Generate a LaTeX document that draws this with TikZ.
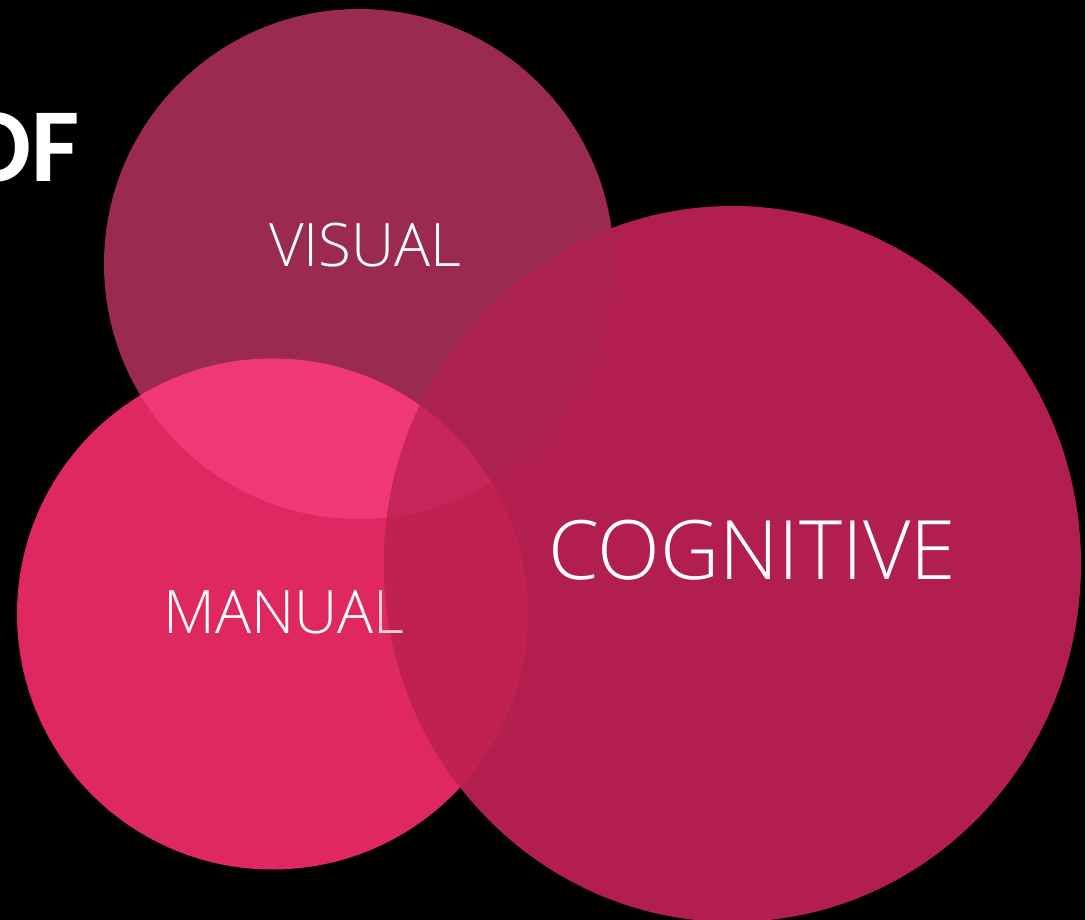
\documentclass[tikz,border=0pt]{standalone}
\usepackage{fontspec}
\usetikzlibrary{shapes.geometric}
\setmainfont{Open Sans}
\newfontfamily\lightfont{Open Sans Light}
\newfontfamily\offont{Carlito}
\definecolor{cV}{HTML}{9A2A4E}
\definecolor{cM}{HTML}{DF2762}
\definecolor{cC}{HTML}{B21F4E}
\definecolor{cVM}{HTML}{F03878}
\definecolor{cVC}{HTML}{AC214E}
\definecolor{cMC}{HTML}{C02052}
\definecolor{cVMC}{HTML}{C8255C}
\begin{document}
\begin{tikzpicture}[x=1pt,y=-1pt,
  blob/.style={circle, inner sep=0pt, outer sep=0pt, draw=none},
  lbl/.style={text=white, inner sep=0pt}]
\fill[black] (0,0) rectangle (1085,920);
\useasboundingbox (0,0) rectangle (1085,920);
% circles
\node[blob, fill=cV, minimum size=510pt] (V) at (359,264) {};
\node[blob, fill=cM, minimum size=511pt] (M) at (272.5,614) {};
\node[ellipse, inner sep=0pt, outer sep=0pt, fill=cC, minimum width=697pt, minimum height=716pt] (C) at (732.5,564) {};
% overlaps
\begin{scope}
  \clip (V.center) circle (255);
  \fill[cVM] (M.center) circle (255.5);
  \fill[cVC] (C.center) ellipse [x radius=348.5, y radius=358];
\end{scope}
\begin{scope}
  \clip (M.center) circle (255.5);
  \fill[cMC] (C.center) ellipse [x radius=348.5, y radius=358];
\end{scope}
\begin{scope}
  \clip (V.center) circle (255);
  \clip (M.center) circle (255.5);
  \fill[cVMC] (C.center) ellipse [x radius=348.5, y radius=358];
\end{scope}
% labels
\node[lbl, font=\lightfont\fontsize{60}{60}\selectfont] (tv) at (365,245) {VISUAL};
\node[lbl, font=\lightfont\fontsize{60}{60}\selectfont] (tm) at (284,612) {MANUA\textcolor{white!80!cMC}{L}};
\node[lbl, font=\lightfont\fontsize{82}{82}\selectfont] (tc) at (752,550) {COGNITIVE};
\node[lbl, anchor=east, font=\offont\bfseries\fontsize{105}{105}\selectfont] (tof) at (80,147) {OF};
\end{tikzpicture}
\end{document}
